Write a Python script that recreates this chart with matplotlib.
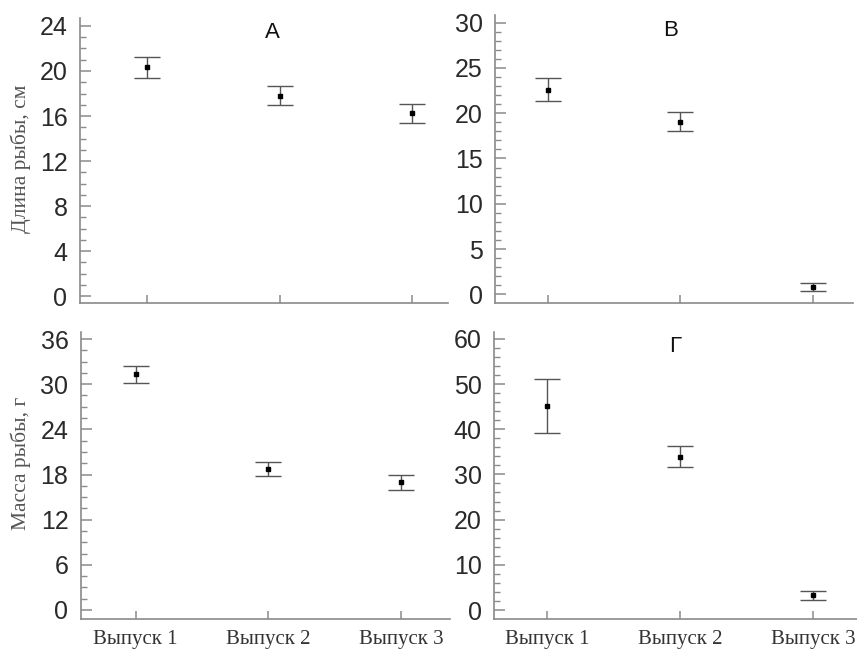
import matplotlib
matplotlib.use("Agg")
import matplotlib.pyplot as plt
from matplotlib.ticker import MultipleLocator
import numpy as np

categories = ["Выпуск 1", "Выпуск 2", "Выпуск 3"]

# Panel А: length (cm)
len_a_mean = [20.35, 17.8, 16.25]
len_a_low = [19.4, 16.95, 15.4]
len_a_high = [21.2, 18.7, 17.1]

# Panel В: length (cm)
len_b_mean = [22.6, 19.05, 0.77]
len_b_low = [21.3, 18.06, 0.33]
len_b_high = [23.9, 20.15, 1.2]

# bottom-left panel: mass (g)
mass_a_mean = [31.3, 18.7, 17.0]
mass_a_low = [30.2, 17.8, 15.9]
mass_a_high = [32.4, 19.7, 18.0]

# Panel Г: mass (g)
mass_b_mean = [45.2, 33.9, 3.25]
mass_b_low = [39.2, 31.6, 2.15]
mass_b_high = [51.1, 36.3, 4.3]

ylabels = ["Длина рыбы, см", "Масса рыбы, г"]

fig = plt.figure(figsize=(8.57, 6.5), dpi=100)

spine_c = "#8a8a8a"
tick_lbl_c = "#2a2a2a"
bar_c = "#555555"

specs = [
    dict(rect=[0.0933, 0.5338, 0.4294, 0.4385], ylim=(-0.622, 24.71), xlim=(0.494, 3.27),
         major=4, minor=1, mean=len_a_mean, low=len_a_low, high=len_a_high, xlabels=False),
    dict(rect=[0.5776, 0.5343, 0.4177, 0.4426], ylim=(-0.93, 30.84), xlim=(0.603, 3.30),
         major=5, minor=1, mean=len_b_mean, low=len_b_low, high=len_b_high, xlabels=False),
    dict(rect=[0.0945, 0.0477, 0.4306, 0.4415], ylim=(-1.196, 36.93), xlim=(0.588, 3.37),
         major=6, minor=1.5, mean=mass_a_mean, low=mass_a_low, high=mass_a_high, xlabels=True),
    dict(rect=[0.5768, 0.0477, 0.4232, 0.4415], ylim=(-1.99, 61.5), xlim=(0.60, 3.33),
         major=10, minor=2, mean=mass_b_mean, low=mass_b_low, high=mass_b_high, xlabels=True),
]

x = np.arange(1, len(categories) + 1)
for s in specs:
    ax = fig.add_axes(s["rect"])
    mean = np.array(s["mean"])
    low = np.array(s["low"])
    high = np.array(s["high"])
    ax.errorbar(x, mean, yerr=[mean - low, high - mean], fmt="s", color="black",
                markersize=3.2, ecolor=bar_c, elinewidth=1.0, capsize=9.5, capthick=1.0)
    ax.set_xlim(*s["xlim"])
    ax.set_ylim(*s["ylim"])
    for side in ["top", "right"]:
        ax.spines[side].set_visible(False)
    for side in ["left", "bottom"]:
        ax.spines[side].set_color(spine_c)
        ax.spines[side].set_linewidth(1.2)
    ax.yaxis.set_major_locator(MultipleLocator(s["major"]))
    ax.yaxis.set_minor_locator(MultipleLocator(s["minor"]))
    ax.set_xticks(x)
    if s["xlabels"]:
        ax.set_xticklabels(categories, fontfamily="Liberation Serif", fontsize=15, color="#333333")
    else:
        ax.set_xticklabels([])
    ax.tick_params(axis="y", which="major", direction="in", length=8, width=1.1,
                   color=spine_c, labelsize=18, labelcolor=tick_lbl_c, pad=9)
    ax.tick_params(axis="y", which="minor", direction="in", length=4.5, width=1.0, color=spine_c)
    ax.tick_params(axis="x", which="major", direction="in", length=6, width=1.1,
                   color=spine_c, pad=8)
    for lbl in ax.get_yticklabels():
        lbl.set_fontfamily("Liberation Sans")
    ax.set_facecolor("white")

# panel letters
fig.text(272 / 857, 1 - 32 / 650, "А", fontsize=16, fontfamily="Liberation Sans",
         ha="center", va="center", color="#111111")
fig.text(671 / 857, 1 - 30 / 650, "В", fontsize=16, fontfamily="Liberation Sans",
         ha="center", va="center", color="#111111")
fig.text(675 / 857, 1 - 347 / 650, "Г", fontsize=16, fontfamily="Liberation Sans",
         ha="center", va="center", color="#111111")

# y labels
fig.text(21 / 857, 1 - 159 / 650, ylabels[0], rotation=90, fontsize=15.5,
         fontfamily="Liberation Serif", ha="center", va="center", color="#555555")
fig.text(21 / 857, 1 - 463 / 650, ylabels[1], rotation=90, fontsize=15.5,
         fontfamily="Liberation Serif", ha="center", va="center", color="#555555")

fig.savefig("out.png", dpi=100, facecolor="white")
